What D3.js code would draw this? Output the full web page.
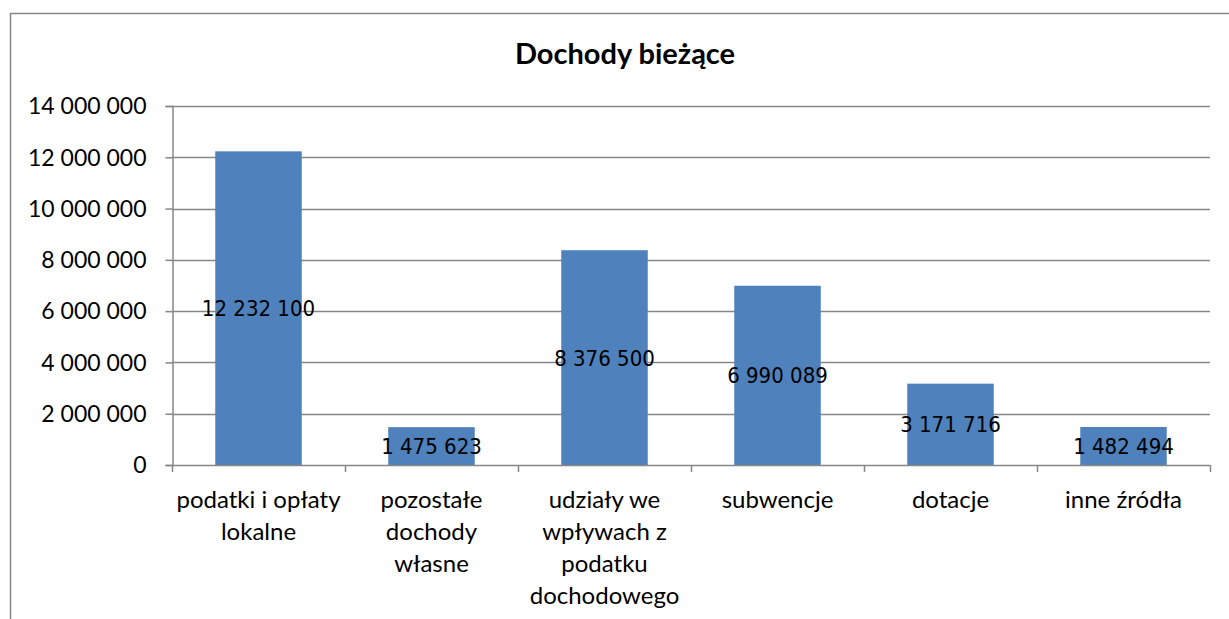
<!DOCTYPE html>
<html>
<head>
<meta charset="utf-8">
<script src="https://cdn.jsdelivr.net/npm/d3@7"></script>
<style>
  body { margin: 0; background: #fff; }
  svg { display: block; }
  .tick-label { font-family: Lato, "Open Sans", sans-serif; font-size: 23px; fill: #000; }
  .cat-label { font-family: Lato, "Open Sans", sans-serif; font-size: 24px; fill: #000; }
  .bar-label { font-family: "Liberation Sans Narrow", "DejaVu Sans Condensed", sans-serif; font-size: 22px; fill: #000; }
</style>
</head>
<body>
<div id="chart"></div>
<script>
// data
const categories = [
  ["podatki i opłaty", "lokalne"],
  ["pozostałe", "dochody", "własne"],
  ["udziały we", "wpływach z", "podatku", "dochodowego"],
  ["subwencje"],
  ["dotacje"],
  ["inne źródła"]
];
const values = [12232100, 1475623, 8376500, 6990089, 3171716, 1482494];
const yTicks = [0, 2000000, 4000000, 6000000, 8000000, 10000000, 12000000, 14000000];
const title = "Dochody bieżące";

const width = 1229, height = 619;
const plot = { left: 172, right: 1210, top: 106, bottom: 465 };

const pl = d3.formatLocale({ decimal: ",", thousands: " ", grouping: [3], currency: ["", ""] });
const fmt = pl.format(",d");

const svg = d3.select("#chart").append("svg")
  .attr("width", width)
  .attr("height", height);

// outer chart frame (clipped by the window on right and bottom)
svg.append("rect")
  .attr("x", 10.5).attr("y", 13.5)
  .attr("width", 1260).attr("height", 700)
  .attr("fill", "none")
  .attr("stroke", "#868686")
  .attr("stroke-width", 1.5);

svg.append("text")
  .attr("x", 625)
  .attr("y", 64)
  .attr("text-anchor", "middle")
  .style("font-family", "Lato, 'Open Sans', sans-serif")
  .style("font-size", "29px")
  .style("font-weight", "bold")
  .text(title);

const x = d3.scaleBand()
  .domain(d3.range(values.length))
  .range([plot.left, plot.right])
  .paddingInner(0.5)
  .paddingOuter(0.25);

const y = d3.scaleLinear()
  .domain([0, 14000000])
  .range([plot.bottom, plot.top]);

// gridlines
svg.append("g")
  .selectAll("line")
  .data(yTicks.filter(d => d > 0))
  .join("line")
  .attr("x1", plot.left)
  .attr("x2", plot.right)
  .attr("y1", d => Math.round(y(d)) + 0.5)
  .attr("y2", d => Math.round(y(d)) + 0.5)
  .attr("stroke", "#868686")
  .attr("stroke-width", 1.5);

// bars
svg.append("g")
  .selectAll("rect")
  .data(values)
  .join("rect")
  .attr("x", (d, i) => x(i))
  .attr("y", d => y(d))
  .attr("width", x.bandwidth())
  .attr("height", d => y(0) - y(d))
  .attr("fill", "#4F81BD");

// y axis
const yAxis = svg.append("g")
  .attr("transform", `translate(${plot.left + 0.5},0)`)
  .call(d3.axisLeft(y).tickValues(yTicks).tickFormat(fmt).tickSize(7).tickPadding(19));
yAxis.select(".domain").attr("stroke", "#868686").attr("stroke-width", 1.5);
yAxis.selectAll(".tick line").attr("stroke", "#868686").attr("stroke-width", 1.5);
yAxis.selectAll(".tick text").attr("class", "tick-label").attr("dy", "0.34em");

// x axis line with ticks at the category boundaries
const bounds = d3.range(values.length + 1).map(i => plot.left + i * x.step());
svg.append("line")
  .attr("x1", plot.left).attr("x2", plot.right)
  .attr("y1", plot.bottom + 0.5).attr("y2", plot.bottom + 0.5)
  .attr("stroke", "#868686").attr("stroke-width", 1.5);
svg.append("g")
  .selectAll("line")
  .data(bounds)
  .join("line")
  .attr("x1", d => Math.round(d) + 0.5)
  .attr("x2", d => Math.round(d) + 0.5)
  .attr("y1", plot.bottom)
  .attr("y2", plot.bottom + 7)
  .attr("stroke", "#868686")
  .attr("stroke-width", 1.5);

// category labels
svg.append("g")
  .selectAll("text")
  .data(categories)
  .join("text")
  .attr("class", "cat-label")
  .attr("text-anchor", "middle")
  .attr("transform", (d, i) => `translate(${x(i) + x.bandwidth() / 2},${plot.bottom + 43})`)
  .selectAll("tspan")
  .data(d => d)
  .join("tspan")
  .attr("x", 0)
  .attr("dy", (d, i) => i === 0 ? 0 : 32)
  .text(d => d);

// value labels centred in each bar
svg.append("g")
  .selectAll("text")
  .data(values)
  .join("text")
  .attr("class", "bar-label")
  .attr("text-anchor", "middle")
  .attr("x", (d, i) => x(i) + x.bandwidth() / 2)
  .attr("y", d => (y(d) + y(0)) / 2)
  .attr("dy", "0.36em")
  .text(d => fmt(d));
</script>
</body>
</html>
